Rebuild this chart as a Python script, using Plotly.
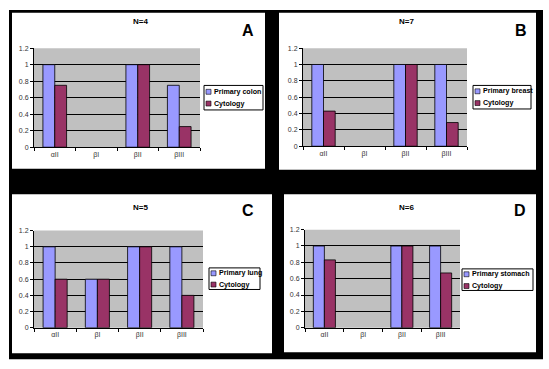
import plotly.graph_objects as go

# ---------------- data ----------------
categories = ["αII", "βI", "βII", "βIII"]
panel_titles = ["N=4", "N=7", "N=5", "N=6"]
panel_letters = ["A", "B", "C", "D"]
primary_names = ["Primary colon", "Primary breast", "Primary lung", "Primary stomach"]
cytology_name = "Cytology"

primary_colon = [1, 0, 1, 0.75]
cytology_colon = [0.75, 0, 1, 0.25]
primary_breast = [1, 0, 1, 1]
cytology_breast = [0.43, 0, 1, 0.29]
primary_lung = [1, 0.6, 1, 1]
cytology_lung = [0.6, 0.6, 1, 0.4]
primary_stomach = [1, 0, 1, 1]
cytology_stomach = [0.83, 0, 1, 0.67]

y_ticks = [0, 0.2, 0.4, 0.6, 0.8, 1, 1.2]
y_tick_labels = ["0", "0.2", "0.4", "0.6", "0.8", "1", "1.2"]

primary_series = [primary_colon, primary_breast, primary_lung, primary_stomach]
cytology_series = [cytology_colon, cytology_breast, cytology_lung, cytology_stomach]

# ---------------- geometry (pixels) ----------------
W, H = 549, 369
BLUE = "#9999FF"
MAROON = "#993366"
GRAY = "#C0C0C0"
FONT = "Arial, Liberation Sans, sans-serif"

def fx(x):
    return x / W

def fy(y):
    return 1 - y / H

panels = [
    dict(white=(12, 9, 265, 168), plot=(34, 45, 200, 146), title=(140, 18), letter=(248, 27),
         box=(204, 83, 263, 108), rows=(89.5, 101.5), sw=206),
    dict(white=(279, 9, 536, 169), plot=(303, 45, 467, 145), title=(406, 18), letter=(521, 27),
         box=(473, 83, 531, 107), rows=(89, 101), sw=475),
    dict(white=(12, 194, 272, 356), plot=(34, 231, 203, 330), title=(140, 207), letter=(248, 210),
         box=(209, 269, 260, 291), rows=(274.5, 286), sw=211),
    dict(white=(284, 194, 536, 355), plot=(305, 230, 460, 330), title=(406, 207), letter=(520, 210),
         box=(462, 270, 533, 292), rows=(275.5, 287.5), sw=464),
]

fig = go.Figure()
shapes = []
annotations = []

# black composite background
shapes.append(dict(type="rect", xref="paper", yref="paper", x0=fx(9), x1=fx(543), y0=fy(362), y1=fy(6),
                   fillcolor="black", line=dict(width=0), layer="below"))

layout_axes = {}
for i, p in enumerate(panels):
    wx0, wy0, wx1, wy1 = p["white"]
    shapes.append(dict(type="rect", xref="paper", yref="paper", x0=fx(wx0), x1=fx(wx1),
                       y0=fy(wy1), y1=fy(wy0), fillcolor="white", line=dict(width=0), layer="below"))


def outline_widths(values):
    return [0.8 if v > 0 else 0 for v in values]


for i, p in enumerate(panels):
    n = "" if i == 0 else str(i + 1)
    xa, ya = "x" + n, "y" + n
    # gray plot area
    shapes.append(dict(type="rect", xref=xa + " domain", yref=ya + " domain", x0=0, x1=1, y0=0, y1=1,
                       fillcolor=GRAY, line=dict(width=0), layer="below"))
    fig.add_trace(go.Bar(x=categories, y=primary_series[i], name=primary_names[i],
                         marker=dict(color=BLUE, line=dict(color="black",
                                                           width=outline_widths(primary_series[i]))),
                         xaxis=xa, yaxis=ya, showlegend=False))
    fig.add_trace(go.Bar(x=categories, y=cytology_series[i], name=cytology_name,
                         marker=dict(color=MAROON, line=dict(color="black",
                                                             width=outline_widths(cytology_series[i]))),
                         xaxis=xa, yaxis=ya, showlegend=False))
    x0, y0, x1, y1 = p["plot"]
    layout_axes["xaxis" + n] = dict(
        domain=[fx(x0), fx(x1)], anchor=ya, type="category", categoryarray=categories,
        categoryorder="array",
        showline=True, linecolor="black", linewidth=1, ticks="outside", tickson="boundaries",
        ticklen=3, tickcolor="black", tickwidth=1, showgrid=False,
        tickfont=dict(family=FONT, size=7, color="#333333"), fixedrange=True)
    layout_axes["yaxis" + n] = dict(
        domain=[fy(y1), fy(y0)], anchor=xa, range=[0, 1.2], tickvals=y_ticks, ticktext=y_tick_labels,
        showline=True, linecolor="black", linewidth=1, ticks="outside", ticklen=3,
        tickcolor="black", tickwidth=1, showgrid=True, gridcolor="black", gridwidth=1,
        zeroline=False, tickfont=dict(family=FONT, size=7, color="#333333"), fixedrange=True)

    # title and letter
    annotations.append(dict(text="<b>" + panel_titles[i] + "</b>", xref="paper", yref="paper",
                            x=fx(p["title"][0]), y=fy(p["title"][1]), showarrow=False,
                            xanchor="center", yanchor="middle",
                            font=dict(family=FONT, size=8, color="black")))
    annotations.append(dict(text="<b>" + panel_letters[i] + "</b>", xref="paper", yref="paper",
                            x=fx(p["letter"][0]), y=fy(p["letter"][1]), showarrow=False,
                            xanchor="center", yanchor="middle",
                            font=dict(family=FONT, size=16, color="black")))
    # legend box
    bx0, by0, bx1, by1 = p["box"]
    shapes.append(dict(type="rect", xref="paper", yref="paper", x0=fx(bx0), x1=fx(bx1),
                       y0=fy(by1), y1=fy(by0), fillcolor="white", line=dict(color="black", width=1)))
    for row_y, col, label in zip(p["rows"], [BLUE, MAROON], [primary_names[i], cytology_name]):
        sx = p["sw"]
        shapes.append(dict(type="rect", xref="paper", yref="paper", x0=fx(sx), x1=fx(sx + 5),
                           y0=fy(row_y + 2.5), y1=fy(row_y - 2.5), fillcolor=col,
                           line=dict(color="black", width=0.6)))
        annotations.append(dict(text="<b>" + label + "</b>", xref="paper", yref="paper",
                                x=fx(sx + 5.5), y=fy(row_y),
                                showarrow=False, xanchor="left", yanchor="middle",
                                font=dict(family=FONT, size=7.1, color="black")))

fig.update_layout(
    width=W, height=H, margin=dict(l=0, r=0, t=0, b=0),
    paper_bgcolor="white", plot_bgcolor=GRAY,
    barmode="group", bargap=0.43, bargroupgap=0,
    shapes=shapes, annotations=annotations, showlegend=False,
    **layout_axes,
)

fig.write_html("out.html", post_script="document.body.style.margin='0px';",
               config={"displayModeBar": False})
